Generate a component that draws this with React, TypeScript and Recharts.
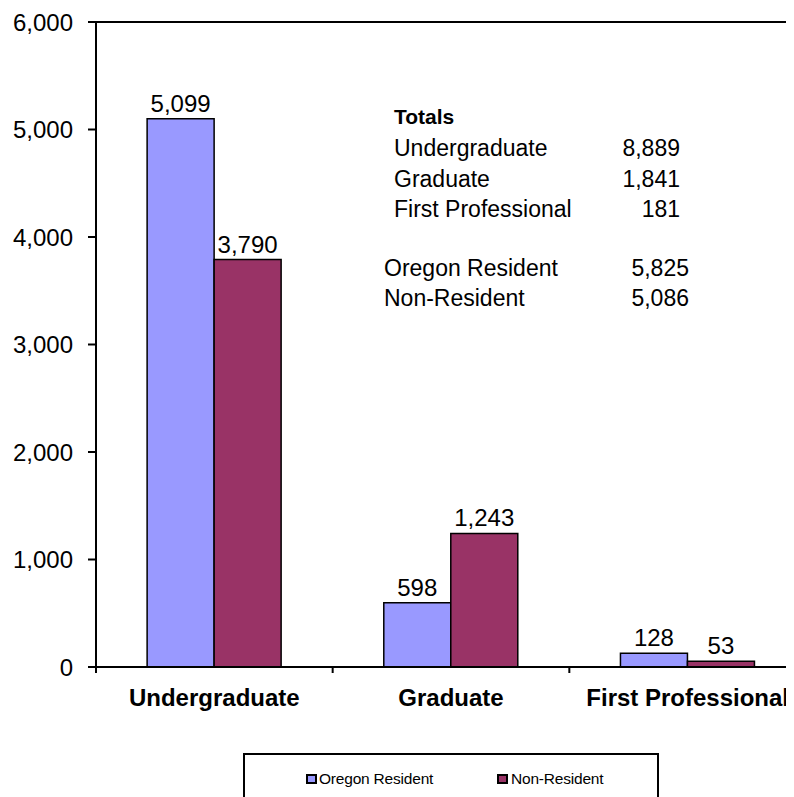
import { BarChart, Bar, XAxis, YAxis, LabelList, ReferenceLine } from "recharts";

const categories = ["Undergraduate", "Graduate", "First Professional"];
const oregonResident = [5099, 598, 128];
const nonResident = [3790, 1243, 53];
const yTicks = [0, 1000, 2000, 3000, 4000, 5000, 6000];

const levelLabels = ["Undergraduate", "Graduate", "First Professional"];
const levelTotals = [8889, 1841, 181];
const residencyLabels = ["Oregon Resident", "Non-Resident"];
const residencyTotals = [5825, 5086];

const seriesNames = ["Oregon Resident", "Non-Resident"];
const seriesColors = ["#9999FF", "#993366"];

const data = categories.map((name, i) => ({
  name,
  oregon: oregonResident[i],
  nonres: nonResident[i],
}));

const fmt = (v: number) => v.toLocaleString("en-US");
const FONT = "'Liberation Sans', Arial, sans-serif";

// category label plus a tick mark on the left edge of its band (Excel style)
function CategoryTick(props: any) {
  const { x, y, payload } = props;
  const edge = x - (payload.offset || 0);
  return (
    <g>
      <line x1={edge} x2={edge} y1={y} y2={y + 6} stroke="#000" strokeWidth={2} />
      <text
        x={x}
        y={y + 22}
        dy="0.71em"
        textAnchor="middle"
        fontSize={24}
        fontWeight="bold"
        fill="#000"
        fontFamily={FONT}
      >
        {payload.value}
      </text>
    </g>
  );
}

export default function App() {
  return (
    <div
      style={{
        position: "relative",
        width: 786,
        height: 789,
        overflow: "hidden",
        fontFamily: FONT,
        color: "#000",
      }}
    >
      <BarChart
        width={800}
        height={789}
        data={data}
        margin={{ top: 14, right: 2, left: 0, bottom: 70 }}
        barCategoryGap="21.6%"
        barGap={0}
        style={{ fontFamily: FONT }}
      >
        <XAxis
          dataKey="name"
          interval={0}
          tickLine={false}
          tickSize={0}
          tickMargin={0}
          axisLine={{ stroke: "#000", strokeWidth: 2 }}
          tick={<CategoryTick />}
          height={60}
        />
        <YAxis
          domain={[0, 6000]}
          ticks={yTicks}
          tickFormatter={fmt}
          width={88}
          tickSize={8}
          tickMargin={15}
          axisLine={{ stroke: "#000", strokeWidth: 2 }}
          tickLine={{ stroke: "#000", strokeWidth: 2 }}
          tick={{ fontSize: 24, fill: "#000" }}
        />
        <ReferenceLine y={6000} stroke="#000" strokeWidth={2} />
        <Bar
          dataKey="oregon"
          name={seriesNames[0]}
          fill={seriesColors[0]}
          stroke="#000"
          strokeWidth={1.5}
          isAnimationActive={false}
        >
          <LabelList dataKey="oregon" position="top" offset={7} formatter={(v: any) => fmt(Number(v))} style={{ fontSize: 24, fill: "#000" }} />
        </Bar>
        <Bar
          dataKey="nonres"
          name={seriesNames[1]}
          fill={seriesColors[1]}
          stroke="#000"
          strokeWidth={1.5}
          isAnimationActive={false}
        >
          <LabelList dataKey="nonres" position="top" offset={7} formatter={(v: any) => fmt(Number(v))} style={{ fontSize: 24, fill: "#000" }} />
        </Bar>
      </BarChart>

      {/* totals box */}
      <div style={{ position: "absolute", left: 386, top: 98, fontSize: 21, fontWeight: "bold", lineHeight: "22px" }}>
        Totals
      </div>
      {levelLabels.map((label, i) => (
        <div
          key={label}
          style={{
            position: "absolute",
            left: 386,
            top: 129 + i * 30.5,
            width: 286,
            fontSize: 23,
            lineHeight: "22px",
            display: "flex",
            justifyContent: "space-between",
          }}
        >
          <span>{label}</span>
          <span>{fmt(levelTotals[i])}</span>
        </div>
      ))}
      {residencyLabels.map((label, i) => (
        <div
          key={label}
          style={{
            position: "absolute",
            left: 376,
            top: 249 + i * 30,
            width: 305,
            fontSize: 23,
            lineHeight: "22px",
            display: "flex",
            justifyContent: "space-between",
          }}
        >
          <span>{label}</span>
          <span>{fmt(residencyTotals[i])}</span>
        </div>
      ))}

      {/* legend */}
      <div
        style={{
          position: "absolute",
          left: 235,
          top: 745,
          width: 416,
          height: 80,
          border: "2px solid #000",
          boxSizing: "border-box",
        }}
      >
        {seriesNames.map((name, i) => (
          <div
            key={name}
            style={{
              position: "absolute",
              left: i === 0 ? 61 : 252,
              top: 15,
              display: "flex",
              alignItems: "center",
              fontSize: 15.5,
              lineHeight: "18px",
              letterSpacing: -0.2,
            }}
          >
            <span
              style={{
                display: "inline-block",
                width: 7,
                height: 6,
                background: seriesColors[i],
                border: "2px solid #000",
                marginRight: i === 0 ? 2 : 3,
              }}
            />
            {name}
          </div>
        ))}
      </div>
    </div>
  );
}
